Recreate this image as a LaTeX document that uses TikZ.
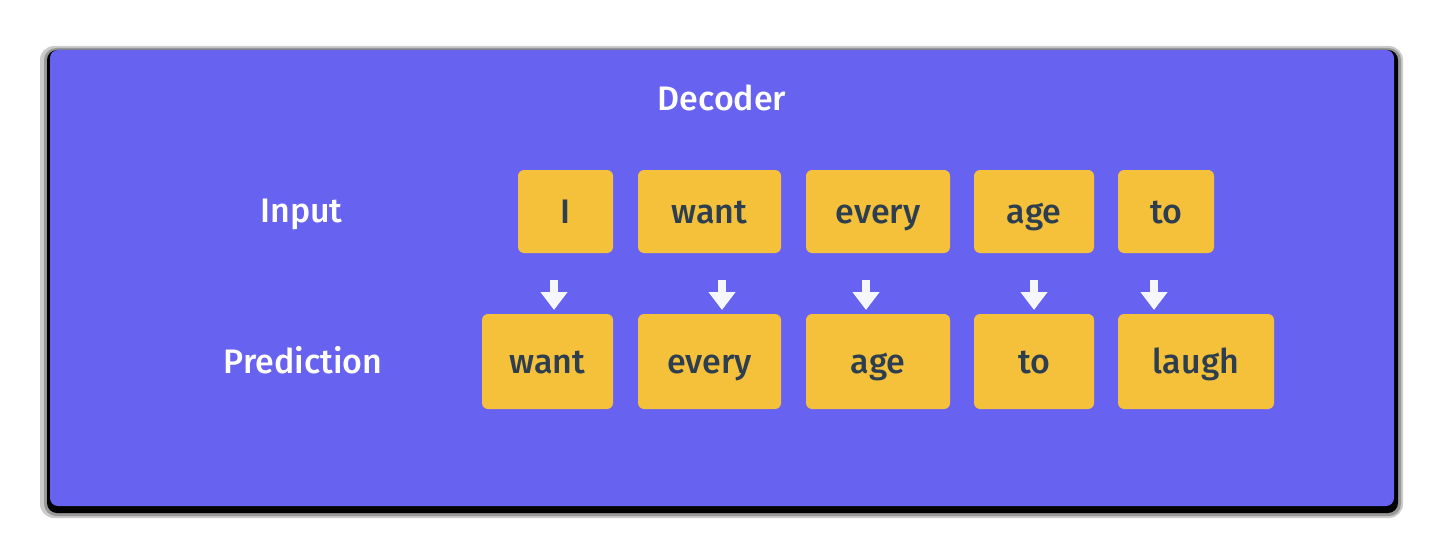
\documentclass[tikz,border=0pt]{standalone}
\usepackage{fontspec}
\setmainfont{Fira Sans}[UprightFont=* Medium]
\usetikzlibrary{arrows.meta}

\definecolor{lila}{RGB}{103,98,240}
\definecolor{gelb}{RGB}{245,192,58}
\definecolor{schrift}{RGB}{44,62,80}
\definecolor{pfeilweiss}{RGB}{246,246,255}

\begin{document}
\begin{tikzpicture}
	[
	x=0.5pt, y=-0.5pt, font=\fontsize{17}{20}\selectfont, >={Triangle[width=13pt,length=9pt]},
	%Voreinstellungen fuer Kaesten und Pfeile
	wort/.style={fill=gelb, text=schrift, rounded corners=3pt, inner sep=0pt, text height=12pt, text depth=0pt},
	titel/.style={text=white, inner sep=0pt, text height=12pt, text depth=0pt},
	pfeil/.style={->, draw=pfeilweiss, fill=pfeilweiss, line width=4pt}
	]
	
	%Hintergrund
	\useasboundingbox (0,0) rectangle (1444,556);
	\fill[white] (0,0) rectangle (1444,556);
	
	%Schatten
	\fill[black, opacity=0.2, rounded corners=7pt] (40,46) rectangle (1403,518);
	\fill[black, opacity=0.25, rounded corners=6pt] (44,48) rectangle (1401,516);
	\fill[black, rounded corners=5pt] (47,50) rectangle (1398,513);
	
	%Decoder-Kasten
	\fill[lila, rounded corners=4pt] (50,50) rectangle (1394,506);
	
	\node[titel] (decoder) at (722,98.5) {Decoder};
	\node[titel] (input) at (301.5,210.5) {Input};
	\node[titel] (prediction) at (303,361.5) {Prediction};
	
	%Eingabe
	\foreach \i/\x/\w/\txt in {1/565.5/47.5pt/I, 2/709.5/71.5pt/want, 3/878/72pt/every, 4/1034/60pt/age, 5/1166/48pt/to}
	\node[wort, minimum width=\w, minimum height=41.5pt] (in\i) at (\x,211.5) {\txt};
	
	%Vorhersage
	\foreach \i/\x/\w/\txt in {1/547.5/65.5pt/want, 2/709.5/71.5pt/every, 3/878/72pt/age, 4/1034/60pt/to, 5/1196/78pt/laugh}
	\node[wort, minimum width=\w, minimum height=47.5pt] (pr\i) at (\x,361.5) {\txt};
	
	%Pfeile
	\foreach \i/\x in {1/554, 2/722, 3/866, 4/1034, 5/1154}
	{
		\coordinate (po\i) at (\x,280);
		\coordinate (pu\i) at (\x,310);
		\draw[pfeil] (po\i) -- (pu\i);
	}
	
\end{tikzpicture}
\end{document}
